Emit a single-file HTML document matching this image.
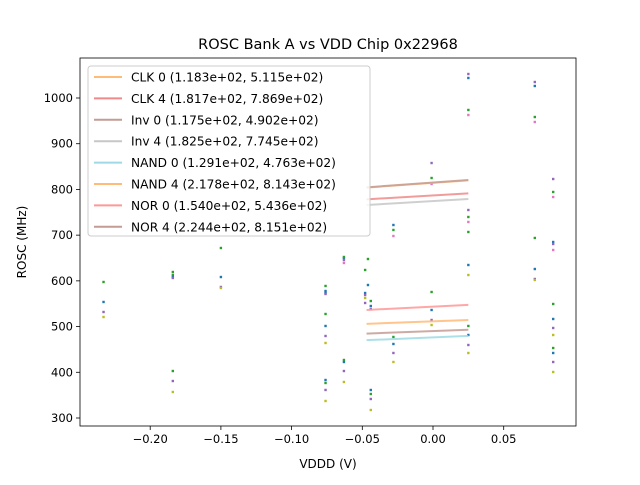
<!DOCTYPE html>
<html><head><meta charset="utf-8"><style>
body{margin:0;background:#fff;}
svg text{font-family:"DejaVu Sans","Liberation Sans",sans-serif;fill:#000;}
</style></head><body>
<svg id="chart" width="640" height="480" viewBox="0 0 640 480" xmlns="http://www.w3.org/2000/svg">
<rect width="640" height="480" fill="#fff"/>
<text x="328" y="49" font-size="14.5" text-anchor="middle">ROSC Bank A vs VDD Chip 0x22968</text>
<g id="plot"></g>
<text x="328" y="468" font-size="12" text-anchor="middle">VDDD (V)</text>
<text x="26" y="242" font-size="12" text-anchor="middle" transform="rotate(-90 26 242)">ROSC (MHz)</text>
</svg>
<script>
const xTicks=[-0.20,-0.15,-0.10,-0.05,0.00,0.05];
const xTickLabels=["−0.20","−0.15","−0.10","−0.05","0.00","0.05"];
const yTicks=[300,400,500,600,700,800,900,1000];
const fitNames=["CLK 0 (1.183e+02, 5.115e+02)","CLK 4 (1.817e+02, 7.869e+02)","Inv 0 (1.175e+02, 4.902e+02)","Inv 4 (1.825e+02, 7.745e+02)","NAND 0 (1.291e+02, 4.763e+02)","NAND 4 (2.178e+02, 8.143e+02)","NOR 0 (1.540e+02, 5.436e+02)","NOR 4 (2.244e+02, 8.151e+02)"];
const fitSlopes=[118.3,181.7,117.5,182.5,129.1,217.8,154.0,224.4];
const fitIntercepts=[511.5,786.9,490.2,774.5,476.3,814.3,543.6,815.1];
const fitColors=["#ffbb78","#f08a8a","#c49c94","#c7c7c7","#9edae5","#ffbb78","#ff9896","#c49c94"];
const fitRange=[-0.047,0.025];
const pointX=[-0.233,-0.233,-0.233,-0.233,-0.184,-0.184,-0.184,-0.184,-0.184,-0.184,-0.184,-0.150,-0.150,-0.150,-0.150,
-0.076,-0.076,-0.076,-0.076,-0.076,-0.076,-0.076,-0.076,-0.076,-0.076,-0.076,-0.076,
-0.063,-0.063,-0.063,-0.063,-0.063,-0.063,-0.063,-0.063,
-0.046,-0.048,-0.046,-0.048,-0.048,-0.048,-0.048,
-0.044,-0.044,-0.044,-0.044,-0.044,-0.044,-0.044,
-0.028,-0.028,-0.028,-0.028,-0.028,-0.028,-0.028,
-0.001,-0.001,-0.001,-0.001,-0.001,-0.001,-0.001,
0.025,0.025,0.025,0.025,0.025,0.025,0.025,0.025,0.025,0.025,0.025,0.025,0.025,0.025,
0.072,0.072,0.072,0.072,0.072,0.072,0.072,0.072,
0.085,0.085,0.085,0.085,0.085,0.085,0.085,0.085,0.085,0.085,0.085,0.085,0.085,0.085];
const pointY=[597.5,553.8,531.9,520.9,619.4,612.8,608.4,606.3,402.8,380.9,356.9,608.4,586.6,584.4,671.9,
588.8,577.8,573.4,571.3,527.5,501.3,479.4,464.1,383.1,376.6,361.3,337.2,
650,652.2,645.6,639.1,426.9,422.5,402.8,378.8,
647.8,623.8,590.9,573.4,569.1,562.5,551.6,
555.9,545,538.4,361.3,352.5,341.6,317.5,
722.2,711.3,698.1,477.2,461.9,442.2,422.5,
857.8,825,811.9,575.6,536.3,514.4,503.4,
1052.5,1043.8,973.8,962.8,755,739.7,728.8,706.9,634.7,612.8,501.3,481.6,459.7,442.2,
1035,1026.3,958.4,947.5,693.8,625.9,604.1,601.9,
822.8,794.4,783.4,685,680.6,667.5,549.4,516.6,496.9,481.6,453.1,442.2,422.5,400.6];
const pointSeries=["g","b","p","o","g","g","b","p","g","p","o","b","p","o","g",
"g","b","b","p","g","b","p","o","b","g","p","o",
"b","g","p","k","g","b","p","o",
"g","g","b","b","p","o","p",
"g","b","p","b","g","p","o",
"b","g","k","g","b","p","o",
"p","g","k","g","b","p","o",
"p","b","g","k","p","g","k","g","b","o","g","b","p","o",
"p","b","g","k","g","b","p","o",
"p","g","k","b","p","k","g","b","p","o","g","b","p","o"];
const seriesColor={b:"#1f77b4",g:"#2ca02c",p:"#9467bd",o:"#bcbd22",k:"#e377c2"};

const L=80,R=576,T=58,B=426;
const xs=v=>433+(v/0.05)*70.7;
const ys=v=>418-(v-300)/2.1875;
const NS="http://www.w3.org/2000/svg";
const plot=document.getElementById('plot');
function mk(tag,attrs,parent){const e=document.createElementNS(NS,tag);for(const k in attrs)e.setAttribute(k,attrs[k]);(parent||plot).appendChild(e);return e;}

const ax=mk('g',{});


xTicks.forEach((t,i)=>{const x=xs(t);
 mk('line',{x1:x,x2:x,y1:B,y2:B+4,stroke:'#000','stroke-width':0.8},ax);
 const tx=mk('text',{x:x,y:B+17,'font-size':11.5,'text-anchor':'middle'},ax);tx.textContent=xTickLabels[i];
 
 });
yTicks.forEach(t=>{const y=ys(t);
 mk('line',{x1:L-4,x2:L,y1:y,y2:y,stroke:'#000','stroke-width':0.8},ax);
 const tx=mk('text',{x:L-7,y:y+4,'font-size':11.5,'text-anchor':'end'},ax);tx.textContent=String(t);
 
 });

const pts=mk('g',{});


pointX.forEach((v,i)=>{const c=mk('rect',{x:xs(v)-1.2,y:ys(pointY[i])-1.2,width:2.4,height:2.4,fill:seriesColor[pointSeries[i]]},pts);
 
 });

const fits=mk('g',{});


fitSlopes.forEach((s,i)=>{const a=fitRange[0],b=fitRange[1];
 const l=mk('line',{x1:xs(a),y1:ys(fitIntercepts[i]+s*a),x2:xs(b),y2:ys(fitIntercepts[i]+s*b),stroke:fitColors[i],'stroke-width':2,'stroke-opacity':0.85},fits);
 
 });

mk('rect',{x:L,y:T,width:R-L,height:B-T,fill:'none',stroke:'#000','stroke-width':0.8});

const lg=mk('g',{});


mk('rect',{x:88,y:66,width:282,height:170,rx:3,fill:'#fff','fill-opacity':0.8,stroke:'#ccc','stroke-width':1},lg);
fitNames.forEach((n,i)=>{const y=77+i*21.4;
 const e=mk('g',{},lg);
 
 
 mk('line',{x1:94,x2:122,y1:y,y2:y,stroke:fitColors[i],'stroke-width':2},e);
 const t=mk('text',{x:131,y:y+4.5,'font-size':12.2},e);t.textContent=n;});
</script>
</body></html>
